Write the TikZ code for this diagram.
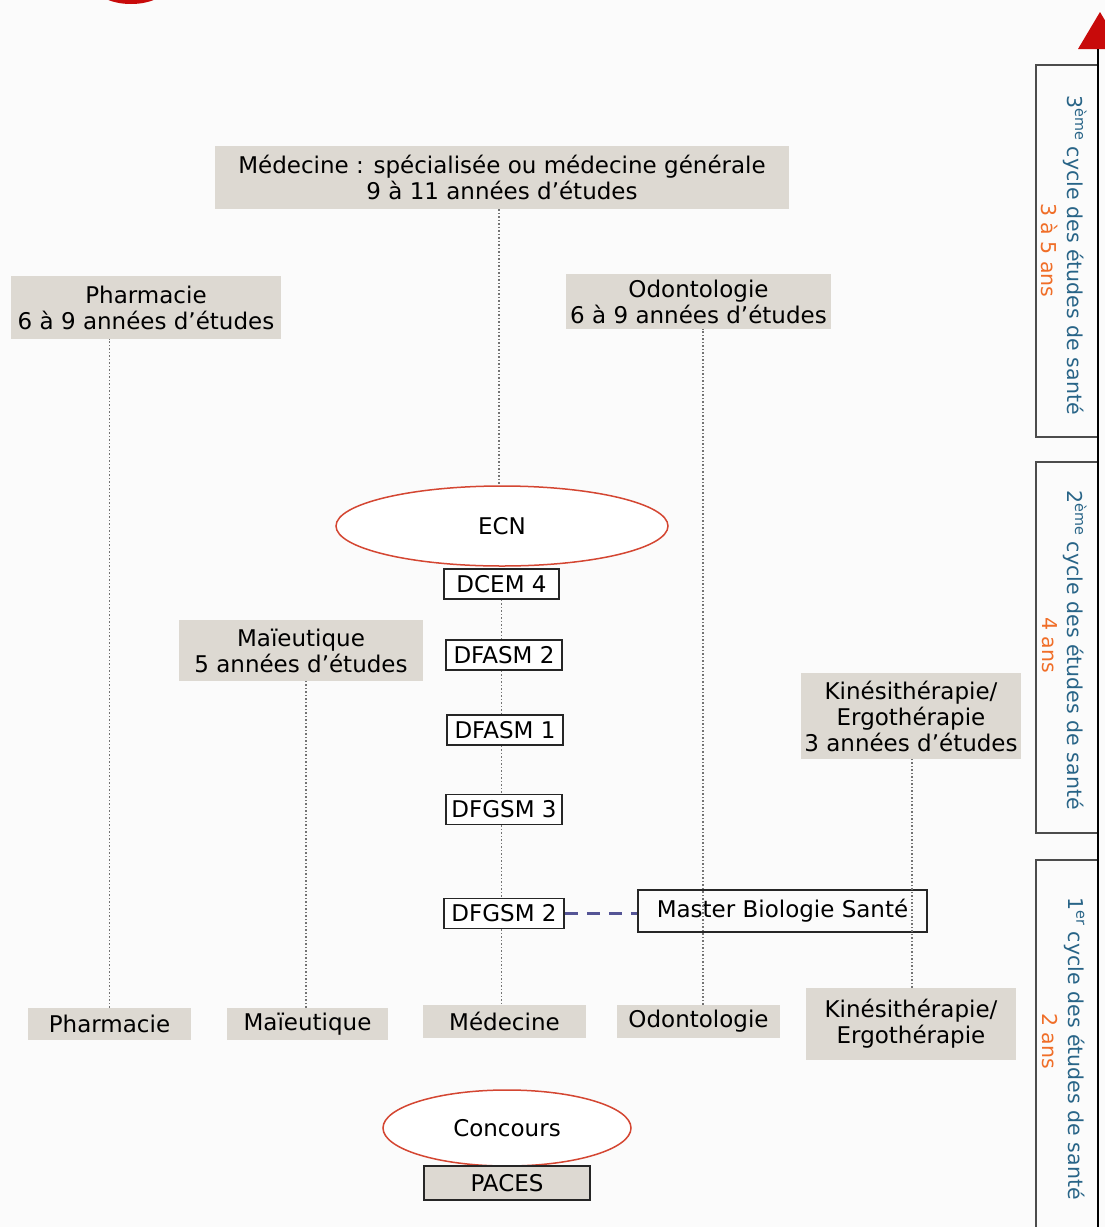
\documentclass[tikz,border=0pt]{standalone}
\usepackage{fontspec}
\setmainfont{DejaVu Sans}
\usetikzlibrary{shapes.geometric}
\definecolor{boxgray}{RGB}{221,217,210}
\definecolor{ecnred}{RGB}{212,70,50}
\definecolor{topred}{RGB}{200,10,10}
\definecolor{cycblue}{RGB}{40,100,135}
\definecolor{cycorange}{RGB}{240,110,40}
\definecolor{dashblue}{RGB}{85,85,150}
\definecolor{bgcol}{RGB}{251,251,251}
\begin{document}
\begin{tikzpicture}[x=1pt,y=-1pt,
  txt/.style={font=\fontsize{23}{26}\selectfont},
  graybox/.style={txt,fill=boxgray,align=center,inner sep=0pt},
  wbox/.style={txt,draw=black!85,line width=1.5pt,fill=white,inner sep=0pt,minimum height=30},
  oval/.style={txt,ellipse,draw=ecnred,line width=1.5pt,fill=white,inner sep=0pt},
  dots/.style={draw=black!55,line width=1.5pt,dash pattern=on 1.5pt off 2pt},
  cyc/.style={rotate=-90,anchor=west,inner sep=0pt,text=cycblue,font=\fontsize{20.5}{24}\selectfont},
  cycor/.style={rotate=-90,anchor=west,inner sep=0pt,text=cycorange,font=\fontsize{20.5}{24}\selectfont},
  cycbox/.style={draw=black!70,line width=1.5pt}
]
\useasboundingbox (0,0) rectangle (1105,1227);
\fill[bgcol] (0,0) rectangle (1105,1227);
\begin{scope}
\clip (0,0) rectangle (1105,1227);
\fill[topred] (131,-14) ellipse (36 and 18);
\fill[topred] (1100,12) -- (1078,49) -- (1122,49) -- cycle;
\draw[cycbox] (1036,65) rectangle (1098,437);
\draw[cycbox] (1036,462) rectangle (1098,833);
\draw[cycbox] (1036,860) rectangle (1098,1240);
\draw[black,line width=1.2pt] (1098,49) -- (1098,1227);
\end{scope}

% cycle labels
\node[cyc] (c3) at (1075,95) {3\textsuperscript{ème} cycle des études de santé};
\node[cycor] (c3y) at (1050,203) {3 à 5 ans};
\node[cyc] (c2) at (1075,490) {2\textsuperscript{ème} cycle des études de santé};
\node[cycor] (c2y) at (1050,617) {4 ans};
\node[cyc] (c1) at (1075,897) {1\textsuperscript{er} cycle des études de santé};
\node[cycor] (c1y) at (1050,1013) {2 ans};

% gray boxes
\node[graybox,minimum width=574,minimum height=63] (medtop) at (502,177.5) {Médecine : spécialisée ou médecine générale\\9 à 11 années d’études};
\node[graybox,minimum width=270,minimum height=63] (pha) at (146,307.5) {Pharmacie\\6 à 9 années d’études};
\node[graybox,minimum width=265,minimum height=55] (odo) at (698.5,301.5) {Odontologie\\6 à 9 années d’études};
\node[graybox,minimum width=244,minimum height=61] (mai) at (301,650.5) {Maïeutique\\5 années d’études};
\node[graybox,minimum width=220,minimum height=86] (kin) at (911,716) {Kinésithérapie/\\Ergothérapie\\3 années d’études};

\node[graybox,minimum width=163,minimum height=32] (phab) at (109.5,1024) {Pharmacie};
\node[graybox,minimum width=161,minimum height=32] (maib) at (307.5,1024) {Maïeutique};
\node[graybox,minimum width=163,minimum height=33] (medb) at (504.5,1021.5) {Médecine};
\node[graybox,minimum width=163,minimum height=33] (odob) at (698.5,1021.5) {Odontologie};
\node[graybox,minimum width=210,minimum height=72] (kinb) at (911,1024) {Kinésithérapie/\\Ergothérapie};

% medicine path
\node[oval,minimum width=332,minimum height=80] (ecn) at (502,526) {ECN};
\node[wbox,minimum width=115] (dcem) at (501.5,584) {DCEM 4};
\node[wbox,minimum width=116] (dfasm2) at (504,655) {DFASM 2};
\node[wbox,minimum width=116] (dfasm1) at (505,730) {DFASM 1};
\node[wbox,minimum width=116] (dfgsm3) at (504,809.5) {DFGSM 3};
\node[wbox,minimum width=120] (dfgsm2) at (504,913.5) {DFGSM 2};
\node[txt,draw=black!85,line width=1.5pt,inner sep=0pt,minimum width=289,minimum height=42] (master) at (782.5,911) {Master Biologie Santé};

\node[oval,minimum width=248,minimum height=76] (conc) at (507,1128) {Concours};
\node[txt,draw=black!85,line width=1.5pt,fill=boxgray,inner sep=0pt,minimum width=166,minimum height=34] (paces) at (507,1183) {PACES};

% dotted connectors
\draw[dots] ([xshift=-3]medtop.south) -- ([xshift=-3]ecn.north);
\draw[dots] (dcem.south) -- (dcem.south |- dfasm2.north);
\draw[dots] (dcem.south |- dfasm2.south) -- (dcem.south |- dfasm1.north);
\draw[dots] (dcem.south |- dfasm1.south) -- (dcem.south |- dfgsm3.north);
\draw[dots] (dcem.south |- dfgsm3.south) -- (dcem.south |- dfgsm2.north);
\draw[dots] (dcem.south |- dfgsm2.south) -- (dcem.south |- medb.north);
\draw[dots] (phab.north) -- (phab.north |- pha.south);
\draw[dots] ([xshift=-1.5]maib.north) -- ([xshift=-1.5]maib.north |- mai.south);
\draw[dots] ([xshift=4.5]odob.north) -- ([xshift=4.5]odob.north |- odo.south);
\draw[dots] ([xshift=1]kinb.north) -- ([xshift=1]kinb.north |- kin.south);

% dashed link
\draw[dashblue,line width=3pt,dash pattern=on 13pt off 9pt] (dfgsm2.east) -- (dfgsm2.east -| master.west);
\end{tikzpicture}
\end{document}
